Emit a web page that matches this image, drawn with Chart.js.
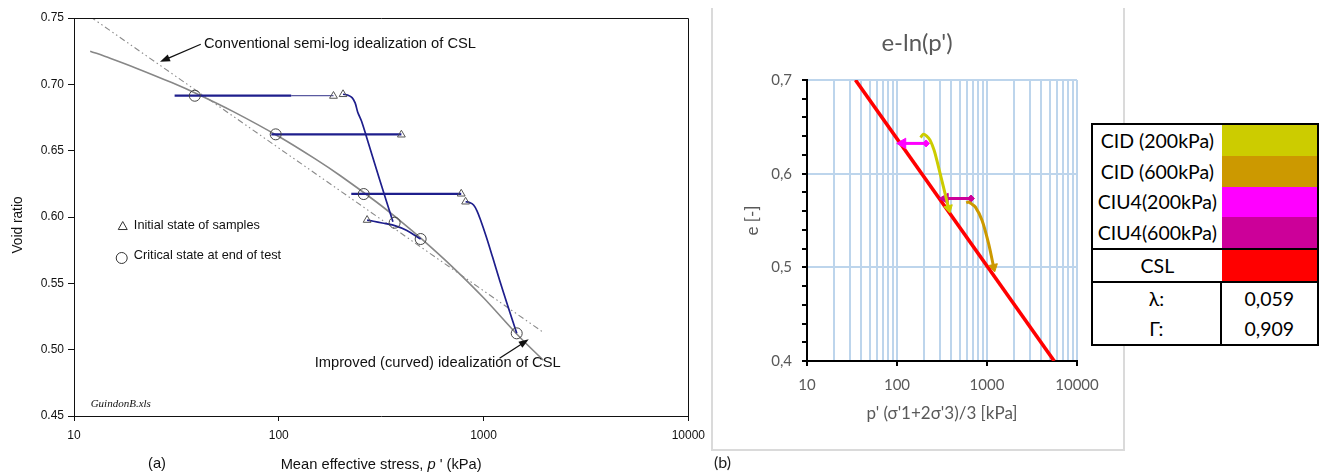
<!DOCTYPE html>
<html lang="en">
<head>
<meta charset="utf-8">
<title>Critical state line — void ratio versus mean effective stress</title>
<script src="https://cdn.jsdelivr.net/npm/chart.js@4.4.1/dist/chart.umd.min.js"></script>
<style>
  html, body { margin: 0; padding: 0; background: #fff; }
  body { position: relative; width: 1324px; height: 474px; overflow: hidden; }
  #canvasA { position: absolute; left: 0; top: 0; }
  #frameB { position: absolute; left: 711px; top: 8px; width: 410px; height: 441px;
            border: 2px solid #dadada; border-top: none; }
  #canvasB { position: absolute; left: 713px; top: 9px; }
  #key { position: absolute; left: 1091px; top: 123px; width: 224px; height: 219px;
         border: 2px solid #000; background: #fff; font-family: Lato, "Open Sans", sans-serif;
         font-size: 19.5px; color: #000; }
  .cell { position: absolute; display: flex; align-items: center; justify-content: center;
          box-sizing: border-box; white-space: nowrap; }
  .rule { position: absolute; background: #000; }
  #tagB { position: absolute; left: 714px; top: 452px; font: 16px Lato, sans-serif; color: #222; }
</style>
</head>
<body>
<canvas id="canvasA" width="712" height="474"></canvas>
<div id="frameB"></div>
<canvas id="canvasB" width="410" height="441"></canvas>
<div id="key"></div>
<div id="tagB">(b)</div>

<script>
// ---------------- Panel (a): Guindon sand, e vs p' ----------------
// Curved critical state line
const cslCurveP = [12, 15, 20, 30, 40, 60, 100, 150, 200, 300, 400, 500, 700, 1000, 1500, 1960];
const cslCurveE = [0.7250, 0.7197, 0.7124, 0.7013, 0.6927, 0.6794, 0.6607, 0.6440, 0.6311,
                   0.6113, 0.5960, 0.5833, 0.5628, 0.5391, 0.5095, 0.4920];
// Conventional straight semi-log CSL
const semiLogP = [12, 1960];
const semiLogE = [0.751, 0.513];

// Stress paths of the four tests
const load1P = [31, 115];          const load1E = [0.6915, 0.6915];
const load1bP = [115, 185];        const load1bE = [0.6915, 0.6915];
const shear1P = [206, 218, 228, 236, 243, 254, 268, 311, 361];
const shear1E = [0.6925, 0.6918, 0.690, 0.686, 0.679, 0.672, 0.6605, 0.628, 0.5965];
const load2P = [92, 397];          const load2E = [0.6623, 0.6623];
const load3P = [226, 778];         const load3E = [0.6175, 0.6175];
const shear3P = [817, 855, 894, 930, 967, 1031, 1107, 1197, 1309, 1453];
const shear3E = [0.6115, 0.6109, 0.6090, 0.6045, 0.5977, 0.5851, 0.5698, 0.5525, 0.5337, 0.5123];
const shear4P = [270, 290, 320, 368, 420, 493];
const shear4E = [0.5977, 0.5968, 0.5955, 0.5935, 0.5900, 0.5834];

// Initial states (triangles) and critical states at end of test (circles)
const initialP = [185, 206, 397, 778, 817, 270];
const initialE = [0.6912, 0.6925, 0.6620, 0.6175, 0.6115, 0.5977];
const criticalP = [38.9, 96.6, 260, 368, 493, 1452];
const criticalE = [0.6914, 0.6623, 0.6173, 0.5957, 0.5834, 0.5123];

const leftXTicks = [10, 100, 1000, 10000];

// ---------------- Panel (b): e - ln(p') ----------------
const seriesNames = ['CID (200kPa)', 'CID (600kPa)', 'CIU4(200kPa)', 'CIU4(600kPa)'];
const cid200P = [183, 196, 214, 233, 258.5, 277, 328, 364, 375];
const cid200E = [0.6385, 0.6422, 0.6401, 0.6358, 0.6251, 0.6144, 0.5859, 0.5681, 0.5631];
const cid600P = [588, 624, 668, 741, 880, 1042, 1185];
const cid600E = [0.5688, 0.5698, 0.5680, 0.5645, 0.5503, 0.5253, 0.5003];
const ciu200P = [210.5, 115.8];
const ciu200E = [0.6323, 0.6323];
const ciu600P = [663, 343];
const ciu600E = [0.5735, 0.5735];
// CSL parameters: e = Γ - λ·ln(p')
const cslLambda = 0.059;
const cslGamma = 0.909;
const cslEnds = [0.70, 0.40];

const rightXTicks = [10, 20, 30, 40, 50, 60, 70, 80, 90,
                     100, 200, 300, 400, 500, 600, 700, 800, 900,
                     1000, 2000, 3000, 4000, 5000, 6000, 7000, 8000, 9000, 10000];
const rightXLabels = [10, 100, 1000, 10000];

// ---------------- styles ----------------
const seriesColors = ['#CCCC00', '#CC9900', '#FF00FF', '#CC0099'];
const cslColor = '#FF0000';
const gridBlue = '#BDD5EC';
const navy = '#1E1E8C';
const arial = '"Liberation Sans", Arial, sans-serif';
const calibriLike = 'Lato, "Open Sans", sans-serif';

const pts = (P, E) => P.map((p, i) => ({ x: p, y: E[i] }));

// ---------- panel (a) ----------
const pathLine = (P, E, width, color) => ({
  data: pts(P, E), showLine: true, borderColor: color || navy, borderWidth: width,
  pointRadius: 0, tension: 0.3, order: 1
});

const notesA = {
  semiLog: { text: 'Conventional semi-log idealization of CSL', at: [43.1, 0.7302],
             tail: [41.6, 0.7302], head: [26.3, 0.717] },
  curved: { text: 'Improved (curved) idealization of CSL', at: [149.8, 0.4902],
            tail: [1197, 0.4935], head: [1663, 0.5078] },
  keyTriangle: { text: 'Initial state of samples', mark: [17.3, 0.5932], at: [19.6, 0.5934] },
  keyCircle: { text: 'Critical state at end of test', mark: [17.1, 0.5691], at: [19.6, 0.5709] },
  file: { text: 'GuindonB.xls', at: [12.06, 0.459] }
};

function squeezed(ctx, str, px, py, size, align, style) {
  ctx.save();
  ctx.font = (style || '') + size + 'px ' + arial;
  ctx.textBaseline = 'middle';
  ctx.textAlign = align || 'left';
  ctx.translate(px, py);
  ctx.scale(0.98, 1);
  ctx.fillText(str, 0, 0);
  ctx.restore();
}

function arrow(ctx, x1, y1, x2, y2) {
  const a = Math.atan2(y2 - y1, x2 - x1), len = 10, half = 3.6;
  ctx.beginPath();
  ctx.moveTo(x1, y1);
  ctx.lineTo(x2 - Math.cos(a) * len * 0.8, y2 - Math.sin(a) * len * 0.8);
  ctx.stroke();
  ctx.beginPath();
  ctx.moveTo(x2, y2);
  ctx.lineTo(x2 - len * Math.cos(a) + half * Math.sin(a), y2 - len * Math.sin(a) - half * Math.cos(a));
  ctx.lineTo(x2 - len * Math.cos(a) - half * Math.sin(a), y2 - len * Math.sin(a) + half * Math.cos(a));
  ctx.closePath();
  ctx.fill();
}

const panelANotes = {
  id: 'panelANotes',
  afterDraw(chart) {
    const { ctx, chartArea: a, scales: { x, y } } = chart;
    const P = v => [x.getPixelForValue(v[0]), y.getPixelForValue(v[1])];
    ctx.save();
    // top and right edges of the plot frame
    ctx.strokeStyle = '#111';
    ctx.lineWidth = 1;
    ctx.beginPath();
    ctx.moveTo(a.left, Math.round(a.top) + 0.5);
    ctx.lineTo(Math.round(a.right) + 0.5, Math.round(a.top) + 0.5);
    ctx.lineTo(Math.round(a.right) + 0.5, a.bottom);
    ctx.stroke();

    ctx.fillStyle = '#111';
    ctx.strokeStyle = '#111';
    ctx.lineWidth = 1.3;
    for (const n of [notesA.semiLog, notesA.curved]) {
      const [tx, ty] = P(n.at);
      squeezed(ctx, n.text, tx, ty, 15);
      const [x1, y1] = P(n.tail), [x2, y2] = P(n.head);
      arrow(ctx, x1, y1, x2, y2);
    }

    // in-plot key
    ctx.lineWidth = 1;
    ctx.strokeStyle = '#333';
    let [mx, my] = P(notesA.keyTriangle.mark);
    ctx.beginPath();
    ctx.moveTo(mx, my - 4.5); ctx.lineTo(mx + 4.5, my + 3.5); ctx.lineTo(mx - 4.5, my + 3.5);
    ctx.closePath(); ctx.stroke();
    [mx, my] = P(notesA.keyCircle.mark);
    ctx.beginPath(); ctx.arc(mx, my, 5.5, 0, Math.PI * 2); ctx.stroke();
    for (const n of [notesA.keyTriangle, notesA.keyCircle]) {
      const [tx, ty] = P(n.at);
      squeezed(ctx, n.text, tx, ty, 13);
    }
    const [fx, fy] = P(notesA.file.at);
    ctx.font = 'italic 11px "Liberation Serif", serif';
    ctx.textBaseline = 'middle';
    ctx.textAlign = 'left';
    ctx.fillText(notesA.file.text, fx, fy);

    // axis titles
    ctx.save();
    ctx.translate(a.left - 56, (a.top + a.bottom) / 2 + 8);
    ctx.rotate(-Math.PI / 2);
    squeezed(ctx, 'Void ratio', 0, 0, 14, 'center');
    ctx.restore();

    const parts = [['Mean effective stress, ', ''], ['p', 'italic '], [" ' (kPa)", '']];
    let total = 0;
    const widths = parts.map(([s, st]) => {
      ctx.font = st + '15px ' + arial;
      const w = ctx.measureText(s).width * 0.98;
      total += w;
      return w;
    });
    let cx = (a.left + a.right) / 2 - total / 2;
    const ty = a.bottom + 49;
    parts.forEach(([s, st], i) => {
      squeezed(ctx, s, cx, ty, 15, 'left', st);
      cx += widths[i];
    });
    squeezed(ctx, '(a)', a.left + 83, a.bottom + 48, 15, 'center');
    ctx.restore();
  }
};

new Chart(document.getElementById('canvasA'), {
  type: 'scatter',
  data: {
    datasets: [
      { data: pts(initialP, initialE), pointStyle: 'triangle', pointRadius: 4.5,
        pointBorderColor: '#555', pointBackgroundColor: 'rgba(255,255,255,0)', pointBorderWidth: 1, order: 0 },
      { data: pts(criticalP, criticalE), pointStyle: 'circle', pointRadius: 5.5,
        pointBorderColor: '#444', pointBackgroundColor: 'rgba(255,255,255,0)', pointBorderWidth: 1, order: 0 },
      pathLine(load1P, load1E, 2.2),
      pathLine(load1bP, load1bE, 1.2, '#5a5aa0'),
      pathLine(shear1P, shear1E, 1.7),
      pathLine(load2P, load2E, 2.2),
      pathLine(load3P, load3E, 2.2),
      pathLine(shear3P, shear3E, 1.7),
      pathLine(shear4P, shear4E, 1.7),
      { data: pts(cslCurveP, cslCurveE), showLine: true, borderColor: '#878787', borderWidth: 1.6,
        pointRadius: 0, tension: 0.3, order: 2 },
      { data: pts(semiLogP, semiLogE), showLine: true, borderColor: '#8a8a8a', borderWidth: 1.1,
        borderDash: [6, 3, 1.5, 3, 1.5, 3], pointRadius: 0, order: 3 }
    ]
  },
  options: {
    responsive: false, animation: false, events: [],
    layout: { padding: { top: 18, right: 23, left: 0, bottom: 0 } },
    plugins: { legend: { display: false }, tooltip: { enabled: false } },
    scales: {
      x: {
        type: 'logarithmic', min: 10, max: 10000,
        afterFit: s => { s.height = 58; },
        afterBuildTicks: s => { s.ticks = leftXTicks.map(v => ({ value: v })); },
        ticks: { autoSkip: false, maxRotation: 0, padding: 7, color: '#111',
                 font: { family: arial, size: 12 }, callback: v => String(v) },
        grid: { drawOnChartArea: false, tickLength: 5, color: '#111' },
        border: { color: '#111', width: 1 }
      },
      y: {
        min: 0.45, max: 0.75,
        afterFit: s => { s.width = 74; },
        ticks: { stepSize: 0.05, padding: 4, color: '#111', font: { family: arial, size: 12 },
                 callback: v => Number(v).toFixed(2) },
        grid: { drawOnChartArea: false, tickLength: 6, color: '#111' },
        border: { color: '#111', width: 1 }
      }
    }
  },
  plugins: [panelANotes]
});

// ---------- panel (b) ----------
const isDecade = v => rightXLabels.includes(v);
const isTenth = v => Math.abs(Math.round(v * 10) - v * 10) < 1e-6;
const endArrow = (P, E, color, rot) => ({
  data: pts(P, E), showLine: true, borderColor: color, borderWidth: 3, tension: 0.3,
  pointStyle: 'triangle', pointRotation: rot,
  pointRadius: c => (c.dataIndex === P.length - 1 ? 5 : 0),
  pointBackgroundColor: color, pointBorderColor: color, pointBorderWidth: 1, order: 0
});
const undrained = (P, E, color) => ({
  data: pts(P, E), showLine: true, borderColor: color, borderWidth: 3,
  pointStyle: c => (c.dataIndex === 0 ? 'rectRot' : 'triangle'),
  pointRotation: 270,
  pointRadius: c => (c.dataIndex === 0 ? 3.5 : 6),
  pointBackgroundColor: color, pointBorderColor: color, pointBorderWidth: 1, order: 0
});

const panelBTitle = {
  id: 'panelBTitle',
  afterDraw(chart) {
    const { ctx, width } = chart;
    ctx.save();
    ctx.font = '24px ' + calibriLike;
    ctx.fillStyle = '#595959';
    ctx.textAlign = 'center';
    ctx.textBaseline = 'middle';
    ctx.fillText("e-ln(p')", width / 2 - 1, 34);
    ctx.restore();
  }
};

new Chart(document.getElementById('canvasB'), {
  type: 'scatter',
  data: {
    datasets: [
      endArrow(cid200P, cid200E, seriesColors[0], 166),
      endArrow(cid600P, cid600E, seriesColors[1], 168),
      undrained(ciu200P, ciu200E, seriesColors[2]),
      undrained(ciu600P, ciu600E, seriesColors[3]),
      { data: cslEnds.map(e => ({ x: Math.exp((cslGamma - e) / cslLambda), y: e })),
        showLine: true, borderColor: cslColor, borderWidth: 3.6, pointRadius: 0, order: 1 }
    ]
  },
  options: {
    responsive: false, animation: false, events: [],
    layout: { padding: { top: 71, right: 46, left: 0, bottom: 0 } },
    plugins: { legend: { display: false }, tooltip: { enabled: false } },
    scales: {
      x: {
        type: 'logarithmic', min: 10, max: 10000,
        afterFit: s => { s.height = 89; },
        afterBuildTicks: s => { s.ticks = rightXTicks.map(v => ({ value: v })); },
        ticks: { autoSkip: false, maxRotation: 0, padding: 10, color: '#595959',
                 font: { family: calibriLike, size: 15 },
                 callback: v => (isDecade(v) ? String(v) : '') },
        grid: { color: gridBlue, lineWidth: 2, tickLength: 5,
                tickColor: c => (c.tick && isDecade(c.tick.value) ? '#000' : 'rgba(0,0,0,0)') },
        border: { color: '#000', width: 2 },
        title: { display: true, text: "p' (σ'1+2σ'3)/3 [kPa]", color: '#595959',
                 font: { family: calibriLike, size: 17 }, padding: { top: 0, bottom: 26 } }
      },
      y: {
        min: 0.4, max: 0.7,
        afterFit: s => { s.width = 94; },
        ticks: { stepSize: 0.02, autoSkip: false, padding: 10, color: '#595959',
                 font: { family: calibriLike, size: 15 },
                 callback: v => (isTenth(v) ? Number(v).toFixed(1).replace('.', ',') : '') },
        grid: { lineWidth: 2, tickLength: 5, tickColor: '#000',
                color: c => (c.tick && isTenth(c.tick.value) ? gridBlue : 'rgba(0,0,0,0)') },
        border: { color: '#000', width: 2 },
        title: { display: true, text: 'e [-]', color: '#595959',
                 font: { family: calibriLike, size: 17 }, padding: { top: 29, bottom: 0 } }
      }
    }
  },
  plugins: [panelBTitle]
});

// ---------- legend / parameter table of panel (b) ----------
(function buildKey() {
  const key = document.getElementById('key');
  const add = (cls, x, y, w, h, text, bg) => {
    const d = document.createElement('div');
    d.className = cls;
    Object.assign(d.style, { left: x + 'px', top: y + 'px', width: w + 'px', height: h + 'px' });
    if (text) d.textContent = text;
    if (bg) d.style.background = bg;
    key.appendChild(d);
  };
  const split = 128.7, rowH = 30.75;
  seriesNames.forEach((name, i) => {
    add('cell', 0, i * rowH, split, rowH, name);
    add('cell', split, i * rowH, 224 - split, rowH, '', seriesColors[i]);
  });
  add('rule', 0, 123, 224, 2);
  add('cell', 0, 125, split, 31, 'CSL');
  add('cell', split, 125, 224 - split, 31, '', cslColor);
  add('rule', 0, 156, 224, 2);
  add('rule', split - 1.7, 158, 2, 61);
  const fmt = v => v.toFixed(3).replace('.', ',');
  add('cell', 0, 158, split - 2, 30.5, 'λ:');
  add('cell', split, 158, 224 - split, 30.5, fmt(cslLambda));
  add('cell', 0, 188.5, split - 2, 30.5, 'Γ:');
  add('cell', split, 188.5, 224 - split, 30.5, fmt(cslGamma));
})();
</script>
</body>
</html>
